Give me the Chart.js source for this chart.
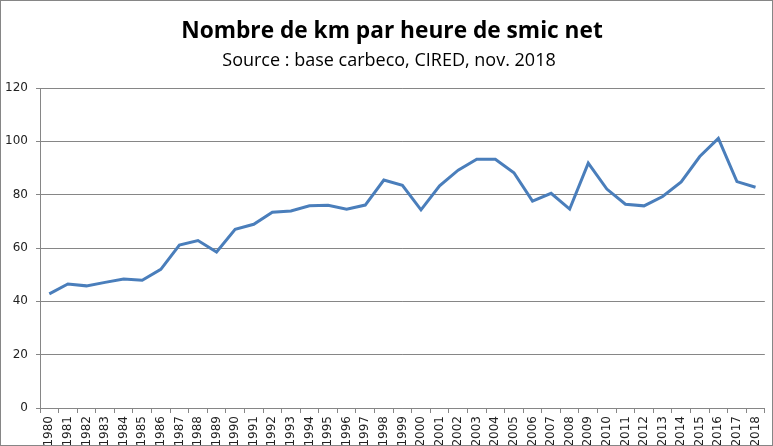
<!DOCTYPE html>
<html><head><meta charset="utf-8">
<script src="https://cdn.jsdelivr.net/npm/chart.js@4"></script>
<style>html,body{margin:0;padding:0;background:#fff}#wrap{width:773px;height:446px;position:relative}</style>
</head><body><div id="wrap"><canvas id="c" width="773" height="446"></canvas></div>
<script>
const years = ["1980","1981","1982","1983","1984","1985","1986","1987","1988","1989","1990","1991","1992","1993","1994","1995","1996","1997","1998","1999","2000","2001","2002","2003","2004","2005","2006","2007","2008","2009","2010","2011","2012","2013","2014","2015","2016","2017","2018"];
const kmParHeure = [42.8,46.5,45.8,47.1,48.4,47.9,52.0,61.1,62.8,58.5,67.0,68.9,73.4,73.9,75.8,76.0,74.5,76.1,85.5,83.5,74.3,83.3,89.2,93.3,93.3,88.2,77.6,80.5,74.6,91.8,82.1,76.4,75.8,79.3,84.8,94.3,101.1,84.9,82.8];
const yTicks = [0,20,40,60,80,100,120];
const titleText = "Nombre de km par heure de smic net";
const subtitleText = "Source : base carbeco, CIRED, nov. 2018";

const titlePlugin = {
  id: 'titles',
  afterDraw(chart) {
    const ctx = chart.ctx;
    ctx.save();
    ctx.strokeStyle = '#868686';
    ctx.lineWidth = 1;
    ctx.strokeRect(0.5, 0.5, chart.width - 1, chart.height - 1);
    ctx.fillStyle = '#000';
    ctx.textAlign = 'center';
    ctx.textBaseline = 'alphabetic';
    ctx.font = 'bold 22.7px "Open Sans", sans-serif';
    ctx.fillText(titleText, 392, 38);
    ctx.font = '18px "Open Sans", sans-serif';
    ctx.fillText(subtitleText, 389, 66);
    ctx.restore();
  }
};

new Chart(document.getElementById('c'), {
  type: 'line',
  data: {
    labels: years,
    datasets: [{
      data: kmParHeure,
      borderColor: '#4a7ebb',
      borderWidth: 3,
      pointRadius: 0,
      tension: 0,
      fill: false
    }]
  },
  options: {
    responsive: false,
    animation: false,
    layout: { padding: { top: 88, right: 6, left: 0, bottom: 0 } },
    plugins: { legend: { display: false }, title: { display: false }, tooltip: { enabled: false } },
    scales: {
      x: {
        type: 'category',
        offset: true,
        grid: { display: true, offset: true, drawOnChartArea: false, drawTicks: true, tickLength: 5, color: '#868686' },
        border: { display: true, color: '#868686' },
        ticks: { minRotation: 90, maxRotation: 90, autoSkip: false, color: '#222', font: { family: '"DejaVu Sans", sans-serif', size: 12 }, padding: 3 },
        afterFit(s) { s.height = 38; }
      },
      y: {
        min: 0, max: 120,
        afterBuildTicks(s) { s.ticks = yTicks.map(v => ({ value: v })); },
        grid: { color: '#868686', tickLength: 4, drawTicks: true },
        border: { display: true, color: '#868686' },
        ticks: { color: '#222', font: { family: '"DejaVu Sans", sans-serif', size: 12 }, padding: 8 },
        afterFit(s) { s.width = 40; }
      }
    }
  },
  plugins: [titlePlugin]
});
</script>
</body></html>
